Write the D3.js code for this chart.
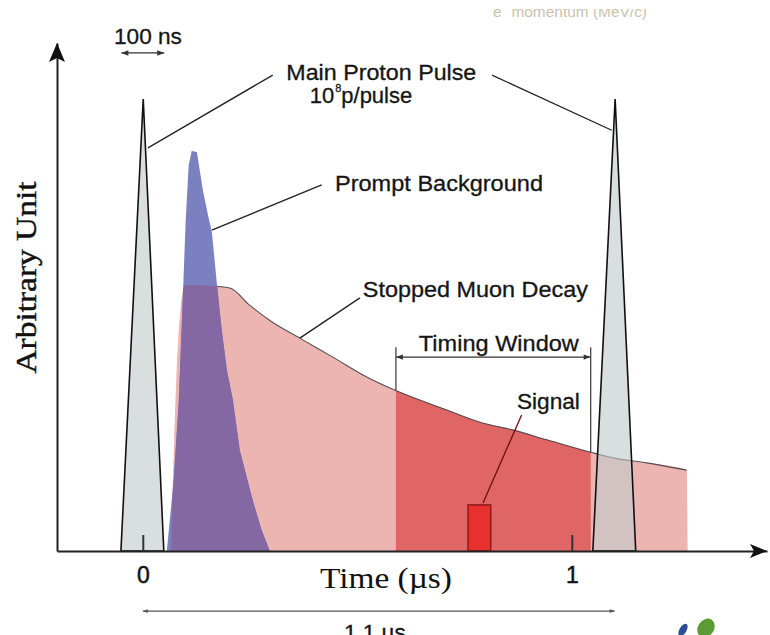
<!DOCTYPE html>
<html>
<head>
<meta charset="utf-8">
<script src="https://cdn.jsdelivr.net/npm/d3@7"></script>
<style>
  body { margin: 0; background: #fff; }
  svg { display: block; }
</style>
</head>
<body>
<script>
// ---- data (time in µs, height in arbitrary units) ----
var pulseTimes = [0, 1.1];
var pulseShape = [[-0.051, 0], [0.001, 100], [0.049, 0]]; // relative to each pulse time

var promptBg = [
  [0.056, 0], [0.063, 6.9], [0.072, 15.7], [0.084, 33.4], [0.093, 55.5],
  [0.100, 73.2], [0.107, 85.4], [0.114, 88.5], [0.126, 88.3], [0.140, 79.9],
  [0.152, 74.3], [0.161, 70.6], [0.173, 58.8], [0.184, 48.9], [0.196, 40.0],
  [0.210, 33.4], [0.226, 22.3], [0.256, 11.3], [0.277, 4.6], [0.296, 0]
];

var muonDecay = [
  [0.066, 0], [0.078, 37.8], [0.090, 55.5], [0.098, 58.8], [0.133, 58.8],
  [0.203, 58.2], [0.249, 54.4], [0.298, 50.9], [0.366, 47.1], [0.443, 42.9],
  [0.522, 38.5], [0.587, 35.6], [0.709, 31.2], [0.786, 28.5], [0.862, 26.8],
  [0.942, 24.6], [1.042, 21.9], [1.096, 20.6], [1.175, 19.5], [1.268, 17.9],
  [1.270, 0]
];

var timingWindow = [0.590, 1.044];
var signalRange = [0.758, 0.811];
var signalHeight = 10.2;

var tickTimes = [0, 1];
var tickLabels = ["0", "1"];

// ---- layout ----
var width = 770, height = 635;
var baseY = 551;

var x = d3.scaleLinear().domain([-0.2, 1.455]).range([57, 767]);
var y = d3.scaleLinear().domain([0, 112.4]).range([baseY, 43]);

var svg = d3.select("body").append("svg")
  .attr("width", width)
  .attr("height", height);

var defs = svg.append("defs");

var area = d3.area()
  .x(function(d) { return x(d[0]); })
  .y0(y(0))
  .y1(function(d) { return y(d[1]); });

var decayArea = d3.area()
  .curve(d3.curveMonotoneX)
  .x(function(d) { return x(d[0]); })
  .y0(y(0))
  .y1(function(d) { return y(d[1]); });

defs.append("clipPath").attr("id", "winClip")
  .append("rect")
  .attr("x", x(timingWindow[0]))
  .attr("width", x(timingWindow[1]) - x(timingWindow[0]))
  .attr("y", 0)
  .attr("height", baseY);

defs.append("clipPath").attr("id", "blueClip")
  .append("path")
  .attr("d", area(promptBg));

defs.append("clipPath").attr("id", "topClip")
  .append("rect").attr("x", 0).attr("y", 9).attr("width", width).attr("height", 20);

// faded caption cut off at the top of the picture
svg.append("text")
  .attr("clip-path", "url(#topClip)")
  .attr("x", 493).attr("y", 17)
  .attr("font-family", "Liberation Sans, Arial, sans-serif")
  .attr("font-size", 14)
  .attr("fill", "#a89878")
  .attr("opacity", 0.6)
  .attr("textLength", 154)
  .attr("lengthAdjust", "spacingAndGlyphs")
  .text("e\u207B momentum (MeV/c)");

// stopped muon decay
svg.append("path")
  .attr("d", decayArea(muonDecay))
  .attr("fill", "#ecb5b2");

svg.append("path")
  .attr("d", decayArea(muonDecay))
  .attr("clip-path", "url(#winClip)")
  .attr("fill", "#e06565");

svg.append("path")
  .attr("d", d3.line().curve(d3.curveMonotoneX)
    .x(function(d) { return x(d[0]); })
    .y(function(d) { return y(d[1]); })(muonDecay.slice(4, muonDecay.length - 1)))
  .attr("fill", "none")
  .attr("stroke", "#3a3a3a")
  .attr("stroke-width", 1.1)
  .attr("opacity", 0.85);

// prompt background
svg.append("path")
  .attr("d", area(promptBg))
  .attr("fill", "#7a80c0");

svg.append("path")
  .attr("d", decayArea(muonDecay))
  .attr("clip-path", "url(#blueClip)")
  .attr("fill", "#8467a3");

// proton pulses
var pulseLine = d3.line()
  .x(function(d) { return x(d[0]); })
  .y(function(d) { return y(d[1]); });

svg.append("g").selectAll("path")
  .data(pulseTimes)
  .enter().append("path")
  .attr("d", function(t) {
    return pulseLine(pulseShape.map(function(p) { return [t + p[0], p[1]]; })) + "Z";
  })
  .attr("fill", "#c2c9c9")
  .attr("fill-opacity", 0.62)
  .attr("stroke", "#111")
  .attr("stroke-width", 1.6)
  .attr("stroke-linejoin", "miter");

// signal
svg.append("rect")
  .attr("x", x(signalRange[0]))
  .attr("width", x(signalRange[1]) - x(signalRange[0]))
  .attr("y", y(signalHeight))
  .attr("height", y(0) - y(signalHeight))
  .attr("fill", "#e8302e")
  .attr("stroke", "#8e1c1c")
  .attr("stroke-width", 1.5);

// axes
var xAxis = svg.append("g")
  .attr("transform", "translate(0," + baseY + ")")
  .call(d3.axisBottom(x)
    .tickValues(tickTimes)
    .tickFormat(function(d, i) { return tickLabels[i]; })
    .tickSizeInner(-16)
    .tickSizeOuter(0)
    .tickPadding(16));

xAxis.select(".domain").attr("stroke", "#222").attr("stroke-width", 2);
xAxis.selectAll(".tick line").attr("stroke", "#333").attr("stroke-width", 2);
xAxis.selectAll(".tick text")
  .attr("font-family", "Liberation Sans, Arial, sans-serif")
  .attr("font-size", 23)
  .attr("fill", "#111")
  .attr("stroke", "#111")
  .attr("stroke-width", 0.5);

var yAxis = svg.append("g")
  .attr("transform", "translate(" + x(-0.2) + ",0)")
  .call(d3.axisLeft(y).tickValues([]).tickSizeOuter(0));
yAxis.select(".domain").attr("stroke", "#222").attr("stroke-width", 2);

// arrow heads on axes
var ax0 = x(-0.2), yTop = y(112.4), xEnd = x(1.455);
svg.append("path")
  .attr("d", "M" + ax0 + "," + yTop + "L" + (ax0 + 8) + "," + (yTop + 19) +
    "L" + ax0 + "," + (yTop + 15) + "L" + (ax0 - 8) + "," + (yTop + 19) + "Z")
  .attr("fill", "#111");
svg.append("path")
  .attr("d", "M" + xEnd + "," + baseY + "L" + (xEnd - 17) + "," + (baseY - 7) +
    "L" + (xEnd - 13) + "," + baseY + "L" + (xEnd - 17) + "," + (baseY + 7) + "Z")
  .attr("fill", "#111");

// double arrows (100 ns scale, timing window, 1.1 µs spacing)
function dblArrow(t0, t1, v, color, w, head) {
  var g = svg.append("g").attr("stroke", color).attr("fill", color);
  var x0 = x(t0), x1 = x(t1), yy = y(v);
  g.append("line").attr("x1", x0).attr("x2", x1).attr("y1", yy).attr("y2", yy)
    .attr("stroke-width", w);
  g.append("path").attr("stroke", "none")
    .attr("d", "M" + x0 + "," + yy + "l" + head + "," + (-head / 2.6) + "v" + (head / 1.3) + "Z" +
      "M" + x1 + "," + yy + "l" + (-head) + "," + (-head / 2.6) + "v" + (head / 1.3) + "Z");
}
dblArrow(-0.05, 0.05, 110.2, "#333", 1.3, 7);
dblArrow(timingWindow[0], timingWindow[1], 42.9, "#333", 1.2, 7);
dblArrow(0, 1.1, -13.3, "#555", 1.4, 5);

// timing window brackets
function decayAt(t) {
  for (var i = 1; i < muonDecay.length; i++) {
    if (muonDecay[i][0] >= t) {
      var a = muonDecay[i - 1], b = muonDecay[i];
      return a[1] + (b[1] - a[1]) * (t - a[0]) / (b[0] - a[0]);
    }
  }
  return 0;
}
svg.append("g").selectAll("line")
  .data(timingWindow)
  .enter().append("line")
  .attr("x1", function(t) { return x(t); })
  .attr("x2", function(t) { return x(t); })
  .attr("y1", y(45.1))
  .attr("y2", function(t) { return y(decayAt(t)); })
  .attr("stroke", "#444")
  .attr("stroke-width", 1.3);

// leader lines
var leaders = [
  [[0.012, 89.2], [0.303, 105.3]],
  [[0.814, 105.3], [1.093, 93.1]],
  [[0.161, 71.0], [0.417, 81.0]],
  [[0.366, 47.1], [0.506, 56.0]],
  [[0.793, 10.6], [0.883, 30.1]]
];
svg.append("g").selectAll("line")
  .data(leaders)
  .enter().append("line")
  .attr("x1", function(d) { return x(d[0][0]); })
  .attr("y1", function(d) { return y(d[0][1]); })
  .attr("x2", function(d) { return x(d[1][0]); })
  .attr("y2", function(d) { return y(d[1][1]); })
  .attr("stroke", function(d, i) { return i === 4 ? "#6a1010" : "#222"; })
  .attr("stroke-width", 1.3);

// labels
var sans = "Liberation Sans, Arial, Helvetica, sans-serif";
var serif = "Liberation Serif, Times New Roman, serif";
var labels = [
  { text: "100 ns", t: 0.012, v: 112.2, anchor: "middle", len: 68 },
  { text: "Main Proton Pulse", t: 0.556, v: 104.2, anchor: "middle", len: 190 },
  { text: "Prompt Background", t: 0.448, v: 79.6, anchor: "start", len: 208 },
  { text: "Stopped Muon Decay", t: 0.513, v: 56.2, anchor: "start", len: 225 },
  { text: "Timing Window", t: 0.830, v: 44.2, anchor: "middle", len: 160 },
  { text: "Signal", t: 0.872, v: 31.4, anchor: "start", len: 63 },
  { text: "1.1 \u00B5s", t: 0.541, v: -19.8, anchor: "middle", len: 62 }
];
svg.append("g").selectAll("text")
  .data(labels)
  .enter().append("text")
  .attr("x", function(d) { return x(d.t); })
  .attr("y", function(d) { return y(d.v); })
  .attr("text-anchor", function(d) { return d.anchor; })
  .attr("font-family", sans)
  .attr("font-size", 22)
  .attr("fill", "#151515")
  .attr("stroke", "#151515")
  .attr("stroke-width", 0.3)
  .attr("textLength", function(d) { return d.len; })
  .attr("lengthAdjust", "spacingAndGlyphs")
  .text(function(d) { return d.text; });

// 10^8 p/pulse
var pp = svg.append("text")
  .attr("x", x(0.389))
  .attr("y", y(99.1))
  .attr("font-family", sans)
  .attr("font-size", 22)
  .attr("fill", "#151515")
  .attr("stroke", "#151515")
  .attr("stroke-width", 0.3);
pp.append("tspan").text("10");
pp.append("tspan").attr("font-size", 11).attr("dy", -11).attr("dx", 1).text("8");
pp.append("tspan").attr("dy", 11).text("p/pulse");

// axis titles
svg.append("text")
  .attr("x", x(0.413))
  .attr("y", y(-8.2))
  .attr("font-family", serif)
  .attr("font-size", 30)
  .attr("fill", "#111")
  .attr("textLength", 132)
  .attr("lengthAdjust", "spacingAndGlyphs")
  .text("Time (\u00B5s)");

svg.append("text")
  .attr("transform", "translate(" + (x(-0.2) - 21) + "," + y(60.5) + ") rotate(-90)")
  .attr("text-anchor", "middle")
  .attr("font-family", serif)
  .attr("font-size", 29)
  .attr("fill", "#111")
  .attr("stroke", "#111")
  .attr("stroke-width", 0.4)
  .attr("textLength", 192)
  .attr("lengthAdjust", "spacingAndGlyphs")
  .text("Arbitrary Unit");

// small logo fragment at the bottom right
svg.append("ellipse").attr("cx", 683).attr("cy", 630).attr("rx", 3.5).attr("ry", 7)
  .attr("transform", "rotate(30,683,630)").attr("fill", "#2c4c98");
svg.append("ellipse").attr("cx", 706).attr("cy", 628).attr("rx", 8).attr("ry", 10)
  .attr("transform", "rotate(35,706,628)").attr("fill", "#5c9a34");
</script>
</body>
</html>
